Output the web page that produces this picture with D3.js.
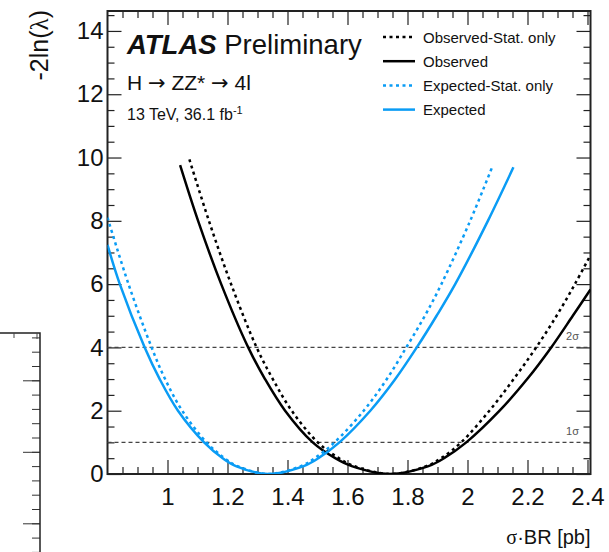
<!DOCTYPE html>
<html>
<head>
<meta charset="utf-8">
<script src="https://cdn.jsdelivr.net/npm/d3@7"></script>
<style>
  body { margin: 0; background: #fff; }
  svg { display: block; font-family: "Liberation Sans", Arial, Helvetica, sans-serif; }
</style>
</head>
<body>
<div id="chart"></div>
<script>
// ---------------- data ----------------
const obsX = [1.042, 1.102, 1.179, 1.269, 1.325, 1.392, 1.484, 1.559, 1.614, 1.740, 1.870, 1.922, 1.996, 2.107, 2.199, 2.279, 2.351, 2.410];
const obsY = [9.76, 8.0, 6.0, 4.0, 3.0, 2.0, 1.0, 0.5, 0.25, 0, 0.25, 0.5, 1.0, 2.0, 3.0, 4.0, 5.0, 5.83];

const obsStatX = [1.073, 1.138, 1.212, 1.297, 1.351, 1.414, 1.501, 1.571, 1.622, 1.745, 1.863, 1.912, 1.979, 2.073, 2.154, 2.229, 2.297, 2.358, 2.410];
const obsStatY = [9.94, 8.0, 6.0, 4.0, 3.0, 2.0, 1.0, 0.5, 0.25, 0, 0.25, 0.5, 1.0, 2.0, 3.0, 4.0, 5.0, 6.0, 6.92];

const expX = [0.800, 0.841, 0.924, 0.974, 1.035, 1.122, 1.184, 1.228, 1.335, 1.454, 1.503, 1.573, 1.676, 1.757, 1.831, 1.897, 1.959, 2.068, 2.153];
const expY = [7.24, 6.0, 4.0, 3.0, 2.0, 1.0, 0.5, 0.25, 0, 0.25, 0.5, 1.0, 2.0, 2.97, 4.0, 5.0, 6.0, 8.0, 9.69];

const expStatX = [0.800, 0.870, 0.947, 0.992, 1.049, 1.130, 1.190, 1.233, 1.335, 1.445, 1.491, 1.557, 1.654, 1.729, 1.796, 1.858, 1.913, 2.009, 2.084];
const expStatY = [8.1, 6.0, 4.0, 3.0, 2.0, 1.0, 0.5, 0.25, 0, 0.25, 0.5, 1.0, 2.0, 2.97, 4.0, 5.0, 6.0, 8.0, 9.74];

const xTicks = [1, 1.2, 1.4, 1.6, 1.8, 2, 2.2, 2.4];
const yTicks = [0, 2, 4, 6, 8, 10, 12, 14];
const sigmaLevels = [1, 4];
const sigmaLabels = ["1\u03c3", "2\u03c3"];

const legendNames = ["Observed-Stat. only", "Observed", "Expected-Stat. only", "Expected"];

//======================CHART==================================================================
const w = 609;
const h = 552;

const pLeft = 107.5, pRight = 590.5, pTop = 11, pBottom = 474;
const blue = "#0a9cf5";

const xScale = d3.scaleLinear().domain([0.8, 2.41]).range([pLeft, pRight]);
const yScale = d3.scaleLinear().domain([0, 14.63]).range([pBottom, pTop]);

const svg = d3.select("#chart").append("svg")
  .attr("width", w)
  .attr("height", h);

// clip for curves
svg.append("clipPath").attr("id", "plot-clip")
  .append("rect")
  .attr("x", pLeft).attr("y", pTop)
  .attr("width", pRight - pLeft).attr("height", pBottom - pTop);

// ---------------- partial neighbouring panel at the left ----------------
const leftPanel = d3.scaleLinear().domain([0, 1]).range([523.3, 451.8]);
svg.append("g")
  .attr("transform", "translate(40,0)")
  .call(d3.axisLeft(leftPanel).tickValues(d3.range(-0.4, 2.61, 0.2)).tickSize(8).tickFormat(""))
  .call(g => g.select(".domain").remove());
svg.append("g")
  .attr("transform", "translate(40,0)")
  .call(d3.axisLeft(leftPanel).tickValues([-1, 0, 1, 2]).tickSize(17).tickFormat(""))
  .call(g => g.select(".domain").remove());
svg.append("path")
  .attr("d", "M0," + 333 + "H40V" + h)
  .attr("fill", "none").attr("stroke", "#222").attr("stroke-width", 1.5);
svg.append("path").attr("d", "M14,333v5M37,333v6")
  .attr("stroke", "#444").attr("stroke-width", 1);
svg.selectAll(".tick line").attr("stroke", "#333");

// ---------------- axes / frame ----------------
const xMinor = d3.range(0.85, 2.41, 0.05).filter(v => Math.abs(v * 5 - Math.round(v * 5)) > 1e-6);
const yMinor = d3.range(0.5, 14.6, 0.5).filter(v => Math.abs(v / 2 - Math.round(v / 2)) > 1e-6);

const tickGroup = (axis, tx, ty) => {
  svg.append("g")
    .attr("transform", "translate(" + tx + "," + ty + ")")
    .call(axis)
    .call(g => g.select(".domain").remove())
    .call(g => g.selectAll("line").attr("stroke", "#222").attr("stroke-width", 1.2));
};

// bottom + top
tickGroup(d3.axisTop(xScale).tickValues(xTicks).tickSize(14).tickFormat(""), 0, pBottom);
tickGroup(d3.axisTop(xScale).tickValues(xMinor).tickSize(7).tickFormat(""), 0, pBottom);
tickGroup(d3.axisBottom(xScale).tickValues(xTicks).tickSize(14).tickFormat(""), 0, pTop);
tickGroup(d3.axisBottom(xScale).tickValues(xMinor).tickSize(7).tickFormat(""), 0, pTop);
// left + right
tickGroup(d3.axisRight(yScale).tickValues(yTicks).tickSize(14).tickFormat(""), pLeft, 0);
tickGroup(d3.axisRight(yScale).tickValues(yMinor).tickSize(7).tickFormat(""), pLeft, 0);
tickGroup(d3.axisLeft(yScale).tickValues(yTicks).tickSize(14).tickFormat(""), pRight, 0);
tickGroup(d3.axisLeft(yScale).tickValues(yMinor).tickSize(7).tickFormat(""), pRight, 0);

// tick labels
svg.append("g")
  .attr("transform", "translate(0," + pBottom + ")")
  .call(d3.axisBottom(xScale).tickValues(xTicks).tickSize(0).tickPadding(14).tickFormat(d3.format("")))
  .call(g => g.select(".domain").remove())
  .selectAll("text")
  .attr("font-size", 24).attr("fill", "#111")
  .attr("font-family", "Liberation Sans, Arial, sans-serif");

svg.append("g")
  .attr("transform", "translate(" + pLeft + ",0)")
  .call(d3.axisLeft(yScale).tickValues(yTicks).tickSize(0).tickPadding(4))
  .call(g => g.select(".domain").remove())
  .selectAll("text")
  .attr("font-size", 24).attr("fill", "#111")
  .attr("font-family", "Liberation Sans, Arial, sans-serif");

svg.append("rect")
  .attr("x", pLeft).attr("y", pTop)
  .attr("width", pRight - pLeft).attr("height", pBottom - pTop)
  .attr("fill", "none").attr("stroke", "#222").attr("stroke-width", 2);

// axis titles
const xTitle = svg.append("text")
  .attr("x", pRight).attr("y", 544)
  .attr("text-anchor", "end").attr("font-size", 20).attr("fill", "#111");
xTitle.append("tspan").attr("font-family", "Liberation Serif, serif").text("\u03c3");
xTitle.append("tspan").text("\u00b7BR [pb]");

const yTitle = svg.append("text")
  .attr("transform", "translate(48,10) rotate(-90)")
  .attr("text-anchor", "end").attr("font-size", 25).attr("fill", "#111");
yTitle.append("tspan").text("-2ln(");
yTitle.append("tspan").attr("font-family", "Liberation Serif, serif").text("\u03bb");
yTitle.append("tspan").text(")");

// ---------------- sigma lines ----------------
svg.selectAll(".sigma-line")
  .data(sigmaLevels)
  .enter().append("line")
  .attr("class", "sigma-line")
  .attr("x1", pLeft).attr("x2", pRight)
  .attr("y1", d => yScale(d)).attr("y2", d => yScale(d))
  .attr("stroke", "#444").attr("stroke-width", 1.3)
  .attr("stroke-dasharray", "4,3");

svg.selectAll(".sigma-label")
  .data(sigmaLevels)
  .enter().append("text")
  .attr("class", "sigma-label")
  .attr("x", 579).attr("y", d => yScale(d) - 7)
  .attr("text-anchor", "end").attr("font-size", 11).attr("fill", "#555")
  .text((d, i) => sigmaLabels[i]);

// ---------------- curves ----------------
const series = [
  { xs: obsStatX, ys: obsStatY, color: "#000", dash: "3,3.5" },
  { xs: obsX, ys: obsY, color: "#000", dash: null },
  { xs: expStatX, ys: expStatY, color: blue, dash: "3,3.5" },
  { xs: expX, ys: expY, color: blue, dash: null }
];

const line = d3.line()
  .x(d => xScale(d[0]))
  .y(d => yScale(d[1]))
  .curve(d3.curveCatmullRom.alpha(0.5));

const curves = svg.append("g").attr("clip-path", "url(#plot-clip)");
series.forEach(s => {
  curves.append("path")
    .attr("d", line(s.xs.map((x, i) => [x, s.ys[i]])))
    .attr("fill", "none")
    .attr("stroke", s.color)
    .attr("stroke-width", 2.5)
    .attr("stroke-dasharray", s.dash);
});

// ---------------- legend ----------------
const legend = svg.append("g").attr("transform", "translate(383,37)");
series.forEach((s, i) => {
  const row = legend.append("g").attr("transform", "translate(0," + (i * 24.2) + ")");
  row.append("line")
    .attr("x1", 0).attr("x2", 32)
    .attr("stroke", s.color).attr("stroke-width", 2.5)
    .attr("stroke-dasharray", s.dash);
  row.append("text")
    .attr("x", 40).attr("y", 5.5)
    .attr("font-size", 15).attr("fill", "#111")
    .text(legendNames[i]);
});

// ---------------- labels ----------------
const atlas = svg.append("text").attr("x", 127).attr("y", 54).attr("font-size", 27.5).attr("fill", "#111");
atlas.append("tspan").attr("font-weight", "bold").attr("font-style", "italic").text("ATLAS");
atlas.append("tspan").text(" Preliminary");

const decay = svg.append("text").attr("x", 127).attr("y", 90).attr("font-size", 21).attr("fill", "#111");
decay.append("tspan").text("H ");
decay.append("tspan").attr("font-family", "DejaVu Sans, sans-serif").text("\u2192");
decay.append("tspan").text(" ZZ* ");
decay.append("tspan").attr("font-family", "DejaVu Sans, sans-serif").text("\u2192");
decay.append("tspan").text(" 4l");

const lumi = svg.append("text").attr("x", 127).attr("y", 120).attr("font-size", 16).attr("fill", "#111");
lumi.append("tspan").text("13 TeV, 36.1 fb");
lumi.append("tspan").attr("font-size", 11).attr("dy", -6).text("-1");
</script>
</body>
</html>
